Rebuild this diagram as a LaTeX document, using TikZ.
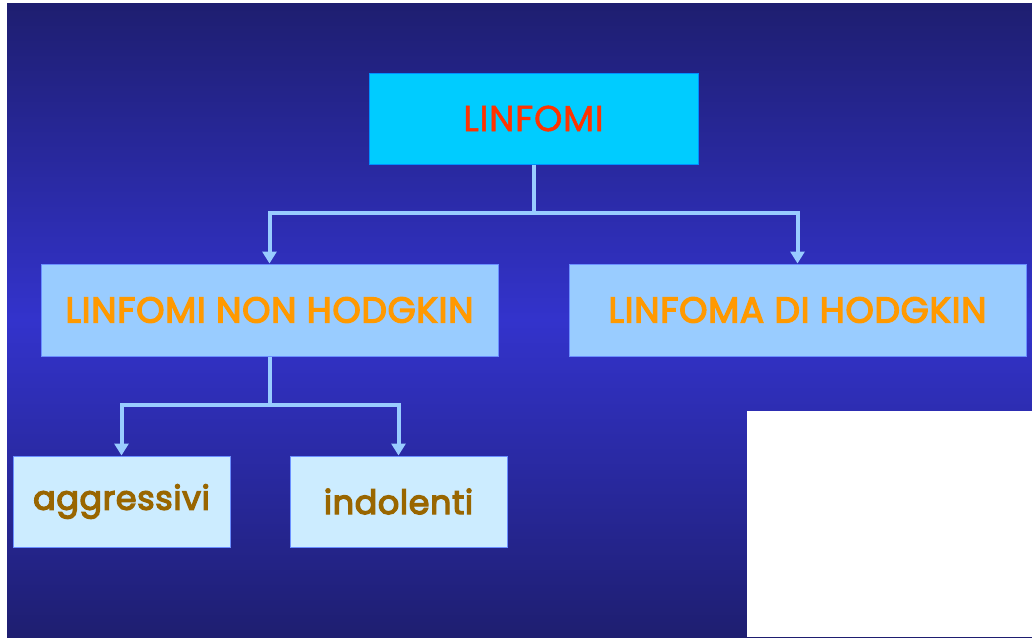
\documentclass[tikz,border=0pt]{standalone}
\usepackage{fontspec}
\setmainfont{Poppins}[LetterSpace=2]
\usetikzlibrary{arrows.meta}

\definecolor{navy}{RGB}{30,30,112}
\definecolor{royal}{RGB}{51,51,204}
\definecolor{cyanbox}{RGB}{0,204,255}
\definecolor{skybox}{RGB}{153,204,255}
\definecolor{palebox}{RGB}{204,236,255}
\definecolor{linkblue}{RGB}{153,204,255}

% thicker glyphs: fill and stroke the text
\newcommand{\heavy}[2]{\special{pdf:literal direct 2 Tr #1 w}#2\special{pdf:literal direct 0 Tr}}

\tikzset{
  box/.style={draw=linkblue!70!blue, line width=0.75pt, inner sep=0,
    font=\fontsize{27}{30}\selectfont},
  rootbox/.style={box, draw=cyanbox!70!blue, fill=cyanbox, text={rgb,255:red,255;green,51;blue,0},
    minimum width=246.75pt, minimum height=68.25pt},
  typebox/.style={box, fill=skybox, text={rgb,255:red,255;green,153;blue,0},
    minimum width=342.75pt, minimum height=69pt},
  gradebox/.style={box, fill=palebox, text={rgb,255:red,153;green,102;blue,0},
    font=\fontsize{25}{28}\selectfont, minimum width=162.75pt, minimum height=68.25pt},
  link/.style={draw=linkblue, line width=3pt,
    -{Triangle[width=10.5pt, length=9pt]}}
}

\begin{document}
\begin{tikzpicture}[x=0.75pt, y=-0.75pt]
  \useasboundingbox (0,0) rectangle (1032,637);

  % Backdrop
  \shade[top color=navy, bottom color=navy, middle color=royal] (7,3) rectangle (1032,637);
  \fill[white] (747,411) rectangle (1032,637);

  % Boxes
  \node[rootbox] (linfomi) at (533.5,118.5) {\heavy{0.4}{LINFOMI}};
  \node[typebox] (nonhodgkin) at (269.5,310) {\heavy{1.0}{LINFOMI NON HODGKIN}};
  \node[typebox] (hodgkin) at (797.5,310) {\heavy{1.0}{LINFOMA DI HODGKIN}};
  \foreach \name/\x/\label in {aggressivi/121.5/aggressivi, indolenti/398.5/indolenti} {
    \node[gradebox] (\name) at (\x,501.5) {\heavy{1.0}{\label}};
  }

  % Connectors
  \coordinate (topbus) at (533.5,213);
  \coordinate (lowbus) at (269.5,405);
  \draw[link] (linfomi.south) -- (topbus) -| (nonhodgkin.north);
  \draw[link] (topbus) -| (hodgkin.north);
  \draw[link] (nonhodgkin.south) -- (lowbus) -| (aggressivi.north);
  \draw[link] (lowbus) -| (indolenti.north);
\end{tikzpicture}
\end{document}
